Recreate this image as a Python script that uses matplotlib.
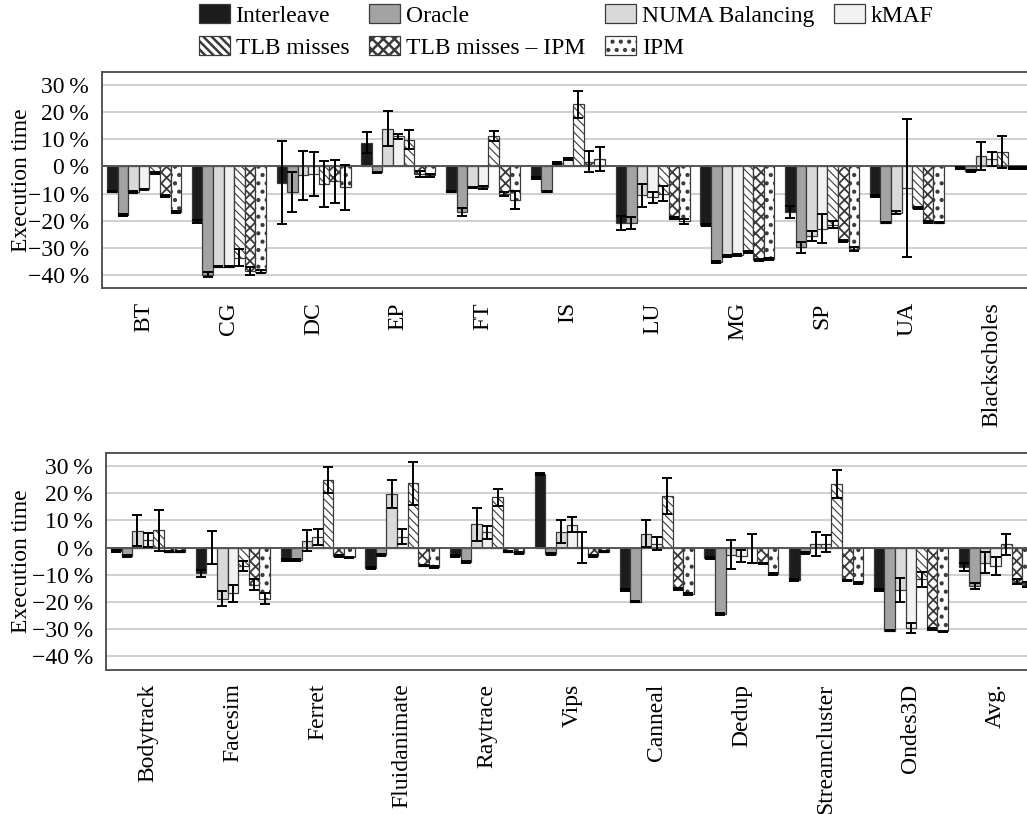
import matplotlib
matplotlib.use("Agg")
import matplotlib.pyplot as plt
import numpy as np
from matplotlib.patches import Patch

plt.rcParams['font.family'] = ['Liberation Serif', 'DejaVu Serif']

# ---------------- data (execution time change in %) ----------------
series = ["Interleave", "Oracle", "NUMA Balancing", "kMAF",
          "TLB misses", "TLB misses \u2013 IPM", "IPM"]

top_groups = ["BT", "CG", "DC", "EP", "FT", "IS", "LU", "MG", "SP", "UA", "Blackscholes"]
top_interleave = [-9.3, -20.4, -6.0, 8.8, -9.3, -4.2, -20.9, -21.5, -16.8, -10.9, -0.5]
top_oracle     = [-18.0, -40.0, -9.4, -2.2, -16.7, -9.3, -20.9, -35.2, -29.9, -20.7, -1.6]
top_numa       = [-9.4, -37.0, -3.3, 13.9, -7.7, 1.3, -10.7, -33.0, -25.7, -17.0, 3.9]
top_kmaf       = [-8.5, -37.0, -2.8, 11.2, -7.7, 2.8, -11.4, -32.8, -23.0, -8.0, 2.8]
top_tlb        = [-2.3, -33.7, -6.3, 9.8, 11.3, 22.9, -10.0, -31.5, -21.5, -15.3, 5.4]
top_tlb_ipm    = [-10.9, -38.5, -5.5, -2.8, -10.2, 1.8, -19.0, -34.6, -27.5, -20.5, -0.6]
top_ipm        = [-16.8, -38.8, -7.7, -3.3, -12.4, 2.8, -20.3, -34.2, -30.6, -20.7, -0.6]

top_interleave_err = [0.3, 0.5, 15.3, 3.8, 0.3, 0.3, 2.6, 0.3, 2.1, 0.3, 0.3]
top_oracle_err     = [0.3, 1.0, 7.3, 0.3, 1.5, 0.3, 2.3, 0.3, 2.1, 0.3, 0.3]
top_numa_err       = [0.3, 0.3, 9.0, 6.5, 0.3, 0.3, 4.3, 0.3, 1.9, 0.5, 5.2]
top_kmaf_err       = [0.3, 0.3, 8.1, 0.9, 0.5, 0.3, 2.0, 0.3, 5.3, 25.5, 2.6]
top_tlb_err        = [0.3, 3.2, 8.5, 3.5, 1.9, 4.9, 2.8, 0.3, 1.4, 0.3, 5.9]
top_tlb_ipm_err    = [0.3, 1.4, 8.0, 1.0, 0.8, 3.9, 0.5, 0.3, 0.5, 0.3, 0.3]
top_ipm_err        = [0.3, 0.5, 8.2, 0.5, 3.3, 4.5, 1.0, 0.3, 0.8, 0.3, 0.3]

bot_groups = ["Bodytrack", "Facesim", "Ferret", "Fluidanimate", "Raytrace", "Vips",
              "Canneal", "Dedup", "Streamcluster", "Ondes3D", "Avg."]
bot_interleave = [-1.2, -9.5, -4.5, -7.6, -3.1, 27.1, -15.6, -3.9, -11.9, -15.6, -7.2]
bot_oracle     = [-3.0, 0.0, -4.5, -2.7, -5.2, -2.3, -19.9, -24.5, -2.1, -30.6, -14.2]
bot_numa       = [6.2, -18.8, 2.5, 19.8, 8.6, 5.9, 5.2, -2.6, 1.2, -15.7, -5.5]
bot_kmaf       = [2.8, -16.9, 3.9, 4.0, 5.6, 8.5, 1.5, -3.0, 1.5, -29.7, -6.7]
bot_tlb        = [6.4, -6.7, 24.9, 23.7, 18.5, 0.2, 19.0, -0.3, 23.4, -11.7, 1.2]
bot_tlb_ipm    = [-1.5, -13.7, -3.1, -6.6, -1.5, -3.0, -15.3, -5.8, -12.1, -30.1, -12.5]
bot_ipm        = [-1.5, -18.8, -3.6, -7.2, -2.0, -1.5, -17.0, -9.7, -13.1, -30.9, -13.7]

bot_interleave_err = [0.3, 1.2, 0.3, 0.3, 0.3, 0.5, 0.3, 0.3, 0.3, 0.3, 1.5]
bot_oracle_err     = [0.3, 6.0, 0.3, 0.3, 0.3, 0.3, 0.3, 0.3, 0.3, 0.3, 1.1]
bot_numa_err       = [5.7, 2.9, 3.9, 5.2, 6.0, 4.3, 5.0, 5.4, 4.4, 4.4, 3.7]
bot_kmaf_err       = [2.5, 3.0, 2.9, 2.8, 2.3, 2.6, 2.5, 2.3, 3.0, 1.8, 3.4]
bot_tlb_err        = [7.6, 1.8, 4.7, 8.0, 3.0, 5.7, 6.5, 5.2, 5.2, 2.8, 4.0]
bot_tlb_ipm_err    = [0.3, 2.0, 0.3, 0.3, 0.3, 0.3, 0.3, 0.3, 0.3, 0.3, 0.9]
bot_ipm_err        = [0.3, 2.0, 0.3, 0.3, 0.3, 0.3, 0.3, 0.3, 0.3, 0.3, 1.0]

yticks = [30, 20, 10, 0, -10, -20, -30, -40]

# ---------------- styles ----------------
face_colors = ['#1c1c1c', '#a3a3a3', '#d9d9d9', '#f2f2f2', 'white', 'white', 'white']
hatches = [None, None, None, None, '\\\\\\\\', 'xxx', '..']
hatch_lw = [1.0, 1.0, 1.0, 1.0, 0.8, 1.3, 1.8]
edge_color = '#3a3a3a'
bar_w = 1.0 / 8


def draw_panel(ax, groups, vals, errs):
    x = np.arange(len(groups))
    for j in range(7):
        pos = x + (j - 3) * bar_w
        plt.rcParams['hatch.linewidth'] = hatch_lw[j]
        ax.bar(pos, vals[j], width=bar_w, color=face_colors[j], edgecolor=edge_color,
               linewidth=0.9, hatch=hatches[j], zorder=2)
        ax.errorbar(pos, vals[j], yerr=errs[j], fmt='none', ecolor='black',
                    elinewidth=1.4, capsize=3.4, capthick=1.4, zorder=3)
    ax.set_xlim(-0.5, len(groups) - 0.5)
    ax.set_ylim(-45, 35)
    ax.set_yticks(yticks)
    ax.set_yticklabels([f"{v}\u2009%".replace('-', '\u2212') for v in yticks])
    ax.set_xticks(x)
    ax.set_xticklabels(groups, rotation=90)
    ax.tick_params(axis='both', length=0, labelsize=17)
    ax.tick_params(axis='x', pad=10)
    ax.tick_params(axis='y', pad=9)
    ax.yaxis.grid(True, color='#d0d0d0', linewidth=1.4)
    ax.set_axisbelow(True)
    ax.axhline(0, color='#555555', linewidth=1.4, zorder=2.5)
    for s in ax.spines.values():
        s.set_color('#555555')
        s.set_linewidth(1.4)


fig = plt.figure(figsize=(10.27, 8.14), dpi=100)
ax_top = fig.add_axes([0.0990, 0.6458, 0.9079, 0.2661])
ax_bot = fig.add_axes([0.1029, 0.1773, 0.9079, 0.2666])

draw_panel(ax_top, top_groups,
           [top_interleave, top_oracle, top_numa, top_kmaf, top_tlb, top_tlb_ipm, top_ipm],
           [top_interleave_err, top_oracle_err, top_numa_err, top_kmaf_err,
            top_tlb_err, top_tlb_ipm_err, top_ipm_err])
draw_panel(ax_bot, bot_groups,
           [bot_interleave, bot_oracle, bot_numa, bot_kmaf, bot_tlb, bot_tlb_ipm, bot_ipm],
           [bot_interleave_err, bot_oracle_err, bot_numa_err, bot_kmaf_err,
            bot_tlb_err, bot_tlb_ipm_err, bot_ipm_err])

fig.text(22 / 1027, 1 - 180 / 814, "Execution time", rotation=90, ha='center', va='center', fontsize=17)
fig.text(22 / 1027, 1 - 561 / 814, "Execution time", rotation=90, ha='center', va='center', fontsize=17)

# legend, column-major order so rows read Interleave/Oracle/NUMA/kMAF then TLB rows
handles = []
for j in range(7):
    plt.rcParams['hatch.linewidth'] = hatch_lw[j]
    handles.append(Patch(facecolor=face_colors[j], edgecolor=edge_color, linewidth=0.9, hatch=hatches[j]))
order = [0, 4, 1, 5, 2, 6, 3]
fig.legend([handles[i] for i in order], [series[i] for i in order], ncol=4,
           loc='upper left', bbox_to_anchor=(199 / 1027, 1 - 4 / 814), frameon=False,
           fontsize=17, handlelength=1.3, handleheight=0.85, handletextpad=0.25,
           columnspacing=0.85, labelspacing=0.4, borderpad=0, borderaxespad=0)

fig.savefig("out.png", dpi=100)
